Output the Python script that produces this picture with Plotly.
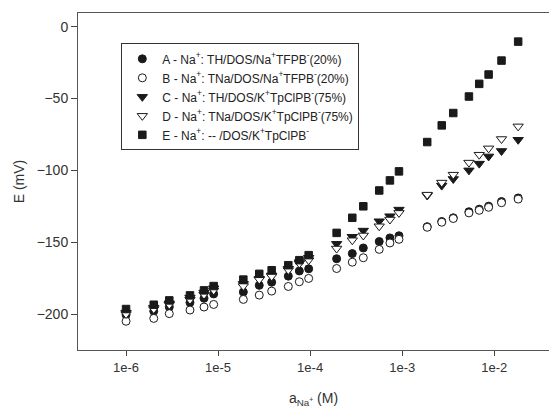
import plotly.graph_objects as go

# Sodium activity (M)
a_na = [1.0e-6, 2.0e-6, 2.95e-6, 4.95e-6, 7.03e-6, 8.95e-6,
        1.88e-5, 2.8e-5, 3.82e-5, 5.79e-5, 7.63e-5, 9.64e-5,
        1.94e-4, 2.87e-4, 3.78e-4, 5.63e-4, 7.36e-4, 9.23e-4,
        1.87e-3, 2.69e-3, 3.59e-3, 5.31e-3, 6.87e-3, 8.69e-3, 1.20e-2, 1.82e-2]

E_A = [-200.5, -198, -195, -192, -189, -186,
       -184.7, -180, -177.8, -173.6, -170, -168.5,
       -161.5, -157.9, -154, -149.5, -147, -145.5,
       -139.2, -135.6, -133, -128.8, -127, -124.9, -121.7, -119.2]
E_B = [-205, -203, -199.7, -197.2, -195.1, -193.3,
       -189.8, -186.8, -184, -180.8, -177.5, -175.2,
       -168.3, -163.9, -160.8, -155, -150.5, -148,
       -139.6, -136.1, -133.5, -129.6, -127.8, -125.7, -122.5, -120]
E_C = [-199, -195.5, -192.5, -188.5, -185, -182,
       -179, -175.4, -173.1, -168.5, -163.9, -160.8,
       -151.1, -146.2, -141.9, -135.4, -131.9, -127.3,
       -117.5, -110.6, -106, -100, -95.3, -90.3, -86.5, -78.7]
E_D = [-200, -196.5, -193.5, -190, -186.5, -183.5,
       -180.5, -176, -173.8, -169.4, -164.8, -162.5,
       -154.4, -148.6, -145.3, -138.9, -134.2, -129.6,
       -116.9, -108.5, -103, -94.6, -89.1, -84.7, -78.2, -69.4]
E_E = [-196.5, -193.5, -190.5, -187, -183.5, -180.5,
       -176, -172, -169.5, -166, -162.5, -159,
       -143.5, -133, -125, -114, -107, -100.7,
       -80.3, -68.7, -60.1, -48.6, -39.8, -33.3, -23.6, -10.4]

names = [
    "A - Na<sup>+</sup>: TH/DOS/Na<sup>+</sup>TFPB<sup>-</sup>(20%)",
    "B - Na<sup>+</sup>: TNa/DOS/Na<sup>+</sup>TFPB<sup>-</sup>(20%)",
    "C - Na<sup>+</sup>: TH/DOS/K<sup>+</sup>TpClPB<sup>-</sup>(75%)",
    "D - Na<sup>+</sup>: TNa/DOS/K<sup>+</sup>TpClPB<sup>-</sup>(75%)",
    "E - Na<sup>+</sup>: -- /DOS/K<sup>+</sup>TpClPB<sup>-</sup>",
]
x_tickvals = [1e-6, 1e-5, 1e-4, 1e-3, 1e-2]
x_ticktext = ["1e-6", "1e-5", "1e-4", "1e-3", "1e-2"]
y_tickvals = [0, -50, -100, -150, -200]

series = [E_A, E_B, E_C, E_D, E_E]
styles = [
    dict(symbol="circle", color="#1a1a1a", size=8, line=dict(color="#1a1a1a", width=1)),
    dict(symbol="circle", color="white", size=8, line=dict(color="#1a1a1a", width=1)),
    dict(symbol="triangle-down", color="#1a1a1a", size=9, line=dict(color="#1a1a1a", width=1)),
    dict(symbol="triangle-down", color="white", size=9, line=dict(color="#1a1a1a", width=1)),
    dict(symbol="square", color="#1a1a1a", size=7.5, line=dict(color="#1a1a1a", width=1)),
]

fig = go.Figure()
for ys, nm, st in zip(series, names, styles):
    fig.add_trace(go.Scatter(x=a_na, y=ys, mode="markers", name=nm, marker=st))

font_family = "Liberation Sans, Arial, sans-serif"
fig.update_layout(
    width=549, height=408,
    margin=dict(l=78, r=0, t=13, b=58),
    paper_bgcolor="white", plot_bgcolor="white",
    font=dict(family=font_family, size=13, color="#333333"),
    showlegend=True,
    legend=dict(
        x=0.092, y=0.91, xanchor="left", yanchor="top",
        bordercolor="#333333", borderwidth=1, bgcolor="white",
        font=dict(size=12, color="#222222"),
        tracegroupgap=0,
    ),
    xaxis=dict(
        type="log", range=[-6.522, -1.405],
        tickvals=x_tickvals, ticktext=x_ticktext,
        ticks="outside", ticklen=5, tickcolor="#444444",
        tickfont=dict(size=13),
        showline=True, linecolor="#555555", linewidth=1, mirror=True,
        showgrid=False, zeroline=False,
        title=dict(text="a<sub>Na<sup>+</sup></sub> (M)", font=dict(size=14), standoff=19),
    ),
    yaxis=dict(
        range=[-225, 9.5],
        tickvals=y_tickvals,
        ticks="outside", ticklen=6, tickcolor="#444444",
        tickfont=dict(size=14),
        showline=True, linecolor="#555555", linewidth=1, mirror=False,
        showgrid=False, zeroline=False,
        title=dict(text="E (mV)", font=dict(size=14), standoff=8),
    ),
)

fig.write_html(
    "out.html",
    config={"displayModeBar": False},
    post_script="document.body.style.margin='0';document.body.style.padding='0';",
)
